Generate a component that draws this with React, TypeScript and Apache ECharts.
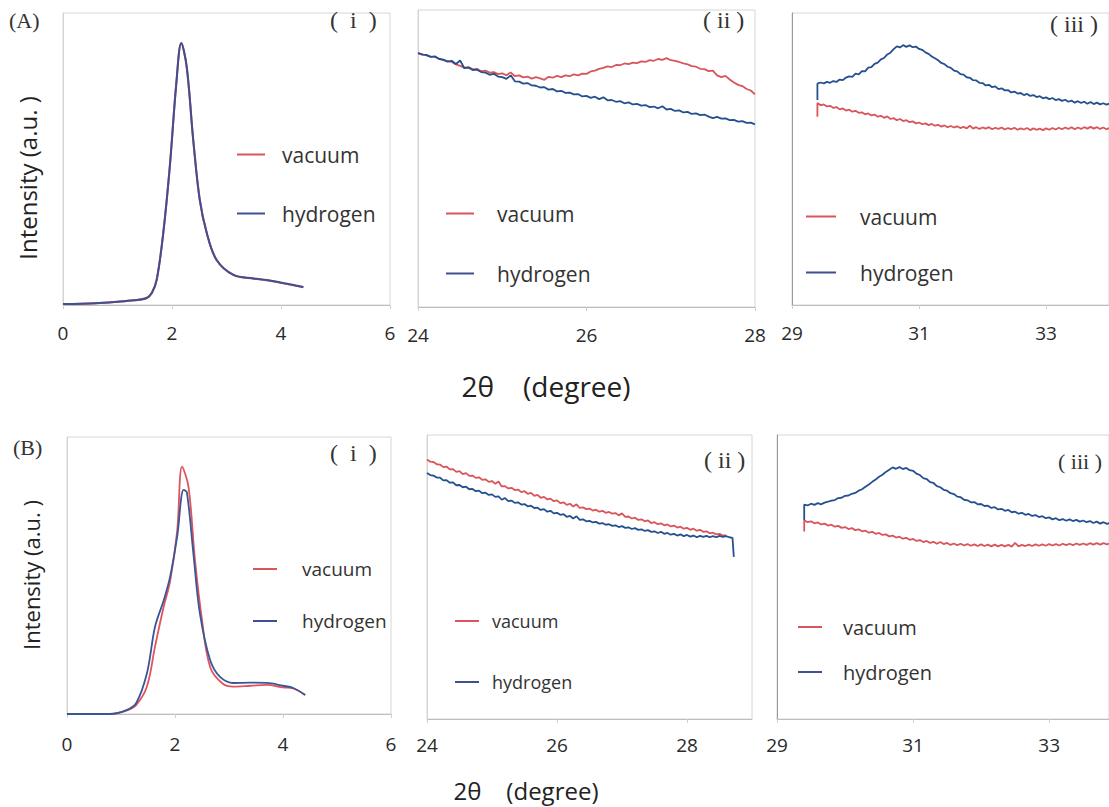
import React, { useEffect, useRef } from "react";
import * as echarts from "echarts";

// ---------- DATA ----------
const STEP = 0.05;
const SERIES_NAMES = ["vacuum", "hydrogen"];

// Panel A(i): [2θ, intensity]
const A1_VACUUM: number[][] = [
  [0, 0.3], [0.6, 0.6], [1.0, 1.1], [1.3, 1.6], [1.53, 2.4], [1.63, 4.2], [1.72, 8.8], [1.84, 24.8],
  [1.96, 47.6], [2.08, 76.2], [2.17, 89.6], [2.27, 81.4], [2.39, 56.3], [2.51, 35.8], [2.64, 24.4],
  [2.82, 15.3], [3.13, 10.2], [3.5, 9.0], [3.74, 8.5], [4.04, 7.4], [4.41, 6.1],
];
const A1_HYDROGEN: number[][] = [
  [0, 0.3], [0.6, 0.6], [1.0, 1.1], [1.3, 1.6], [1.53, 2.3], [1.63, 4.1], [1.72, 8.6], [1.84, 24.6],
  [1.96, 47.4], [2.08, 76.0], [2.17, 89.7], [2.27, 81.6], [2.39, 56.5], [2.51, 36.0], [2.64, 24.6],
  [2.82, 15.4], [3.13, 10.3], [3.5, 9.1], [3.74, 8.6], [4.04, 7.5], [4.41, 6.2],
];

// Panel B(i)
const B1_VACUUM: number[][] = [
  [0, 0], [0.8, 0], [1.1, 1.2], [1.28, 3.2], [1.48, 9.9], [1.63, 24.3], [1.79, 38.7], [1.91, 48.0],
  [2.04, 66.0], [2.13, 89.3], [2.25, 82.0], [2.37, 55.6], [2.5, 34.0], [2.65, 17.0], [2.88, 11.0],
  [3.08, 9.9], [3.4, 10.2], [3.7, 10.5], [4.0, 9.6], [4.19, 9.2], [4.41, 6.9],
];
const B1_HYDROGEN: number[][] = [
  [0, 0], [0.8, 0], [1.1, 1.4], [1.28, 3.9], [1.48, 14.7], [1.63, 31.5], [1.79, 41.0], [1.91, 49.6],
  [2.04, 64.0], [2.16, 80.9], [2.22, 80.0], [2.34, 58.0], [2.46, 36.4], [2.65, 19.5], [2.83, 13.5],
  [3.08, 11.2], [3.4, 11.3], [3.7, 11.2], [4.0, 10.2], [4.19, 9.4], [4.41, 6.9],
];

// Panel A(ii): 24.00 .. 28.00, step 0.05
const A2_X0 = 24.0;
const A2_VACUUM = [
  85.3, 85.1, 84.7, 84.3, 84.2, 83.6, 83.1, 82.8, 82.5, 81.7,
  81.2, 80.6, 80.8, 80.0, 80.2, 79.4, 79.6, 78.9, 79.1, 78.4,
  78.7, 78.0, 79.0, 77.7, 78.0, 77.3, 77.6, 76.9, 77.4, 77.0,
  76.5, 77.5, 77.2, 77.8, 77.4, 78.0, 77.7, 78.3, 78.0, 78.6,
  78.5, 79.3, 79.6, 80.2, 80.5, 81.0, 80.8, 81.5, 81.4, 82.0,
  81.8, 82.3, 82.1, 82.7, 82.5, 83.1, 82.9, 83.5, 83.2, 83.8,
  83.1, 82.9, 82.5, 82.0, 81.7, 81.1, 80.9, 80.2, 80.1, 79.4,
  79.6, 78.0, 77.4, 77.8, 76.6, 75.6, 74.8, 74.4, 73.4, 72.9,
  71.6,
];
const A2_HYDROGEN = [
  85.6, 85.0, 84.9, 84.2, 84.4, 83.5, 83.3, 82.6, 82.9, 81.8,
  83.0, 80.4, 80.6, 79.8, 79.9, 79.1, 78.9, 78.2, 78.5, 77.6,
  77.4, 76.8, 78.0, 76.0, 75.9, 75.2, 75.4, 74.6, 74.5, 73.9,
  74.0, 73.2, 73.4, 72.6, 72.8, 72.1, 72.2, 71.6, 71.7, 70.9,
  71.1, 70.4, 70.8, 70.0, 70.6, 69.6, 69.7, 69.1, 69.3, 68.6,
  68.9, 68.2, 68.4, 67.8, 68.0, 67.3, 67.5, 66.9, 67.6, 66.5,
  66.7, 66.0, 66.2, 65.5, 65.7, 65.0, 65.2, 64.6, 64.8, 64.1,
  63.6, 64.0, 63.4, 63.5, 62.9, 63.0, 62.4, 62.6, 62.0, 62.1,
  61.5,
];

// Panel A(iii): 29.40 .. 34.00, step 0.05 (FOOT = bottom of the initial jump)
const A3_X0 = 29.4;
const A3_VACUUM_FOOT = 64.5;
const A3_VACUUM = [
  69.2, 68.4, 68.7, 68.0, 68.2, 67.5, 67.8, 67.0, 67.3, 66.6,
  66.9, 66.2, 66.5, 65.8, 66.0, 65.3, 65.6, 64.9, 65.2, 64.5,
  64.8, 64.1, 64.6, 63.7, 64.0, 63.3, 63.7, 63.0, 63.3, 62.6,
  62.9, 62.2, 62.5, 61.9, 62.2, 61.6, 62.0, 61.4, 61.7, 61.1,
  61.5, 60.9, 61.3, 60.8, 61.2, 60.6, 61.0, 60.5, 61.4, 60.4,
  60.9, 60.3, 60.8, 60.4, 60.9, 60.2, 60.7, 60.3, 60.8, 60.1,
  60.6, 60.2, 60.7, 60.0, 60.5, 60.1, 60.6, 59.9, 60.5, 60.0,
  60.4, 59.9, 60.5, 60.0, 60.6, 60.1, 60.7, 60.2, 60.8, 60.3,
  60.9, 60.2, 60.8, 60.3, 60.9, 60.4, 61.0, 60.4, 60.9, 60.3,
  60.8, 60.2, 60.6,
];
const A3_HYDROGEN_FOOT = 70.2;
const A3_HYDROGEN = [
  75.8, 76.2, 75.9, 76.4, 76.1, 76.7, 76.4, 77.2, 77.0, 77.9,
  78.3, 78.1, 79.2, 79.0, 80.1, 80.0, 81.3, 81.5, 82.6, 83.0,
  84.1, 84.6, 85.8, 86.4, 87.6, 88.6, 88.2, 89.0, 88.4, 88.9,
  88.3, 88.5, 87.7, 87.4, 86.5, 86.0, 85.1, 84.5, 83.8, 82.9,
  82.5, 81.6, 81.2, 80.3, 80.0, 79.1, 78.9, 78.0, 77.8, 77.0,
  76.9, 76.1, 76.0, 75.2, 75.4, 74.6, 74.9, 73.9, 74.2, 73.5,
  73.6, 72.8, 73.1, 72.4, 72.6, 71.9, 72.3, 71.6, 71.9, 71.2,
  71.5, 70.8, 71.1, 70.5, 70.9, 70.2, 70.5, 69.9, 70.3, 69.6,
  70.0, 69.3, 69.8, 69.2, 69.6, 68.9, 69.5, 68.8, 69.3, 68.7,
  69.1, 68.6, 69.0,
];

// Panel B(ii): 24.00 .. , step 0.05
const B2_X0 = 24.0;
const B2_VACUUM = [
  91.4, 90.6, 90.5, 89.7, 89.6, 88.7, 88.9, 87.9, 88.0, 87.0,
  87.3, 86.2, 86.6, 85.6, 85.7, 84.9, 85.1, 84.2, 84.4, 83.5,
  83.8, 82.8, 83.6, 81.9, 82.0, 81.2, 81.4, 80.6, 80.8, 79.9,
  80.2, 79.3, 79.6, 78.6, 78.9, 77.9, 78.2, 77.3, 77.6, 76.7,
  77.0, 76.0, 76.3, 75.4, 75.8, 74.8, 75.6, 74.3, 74.5, 73.9,
  74.1, 73.4, 73.7, 73.0, 73.3, 72.6, 72.9, 72.3, 72.5, 71.7,
  72.4, 71.2, 71.3, 70.6, 70.9, 70.1, 70.3, 69.6, 69.9, 69.0,
  69.3, 68.6, 68.9, 68.2, 68.5, 67.8, 68.1, 67.4, 67.7, 67.0,
  67.3, 66.6, 67.0, 66.3, 66.6, 65.9, 66.1, 65.4, 65.6, 65.0,
  65.2, 64.6, 64.7,
];
const B2_HYDROGEN = [
  86.6, 85.9, 85.7, 85.0, 85.0, 84.0, 84.1, 83.2, 83.3, 82.3,
  82.4, 81.6, 81.8, 80.9, 81.0, 80.2, 80.4, 79.5, 79.7, 78.9,
  79.1, 78.2, 78.4, 77.2, 77.8, 76.7, 76.9, 76.1, 76.3, 75.5,
  75.7, 74.9, 75.1, 74.3, 74.4, 73.6, 73.9, 73.0, 73.3, 72.4,
  72.6, 71.9, 72.1, 71.2, 71.5, 70.6, 71.4, 70.1, 70.3, 69.6,
  69.8, 69.2, 69.4, 68.8, 69.0, 68.4, 68.6, 68.0, 68.2, 67.6,
  67.9, 67.3, 67.5, 66.9, 67.2, 66.6, 66.8, 66.2, 66.5, 65.9,
  66.1, 65.5, 65.9, 65.2, 65.5, 64.9, 65.2, 64.6, 65.0, 64.4,
  64.8, 64.2, 64.6, 64.0, 64.5, 64.1, 64.5, 64.0, 64.4, 64.0,
  64.5, 64.1, 64.4, 64.0, 63.8,
];
const B2_HYDROGEN_TAIL = [28.72, 57.1];

// Panel B(iii): 29.40 .. 34.00, step 0.05
const B3_X0 = 29.4;
const B3_VACUUM_FOOT = 66.0;
const B3_VACUUM = [
  70.0, 69.3, 69.6, 68.9, 69.2, 68.5, 68.8, 68.1, 68.4, 67.7,
  68.0, 67.3, 67.6, 66.9, 67.2, 66.5, 66.8, 66.1, 66.3, 65.6,
  65.9, 65.2, 65.5, 64.8, 65.0, 64.3, 64.6, 63.9, 64.2, 63.5,
  63.8, 63.1, 63.4, 62.7, 63.0, 62.3, 62.7, 62.0, 62.4, 61.7,
  62.3, 61.6, 62.0, 61.3, 61.8, 61.2, 61.7, 61.1, 61.6, 61.0,
  61.5, 60.9, 61.5, 60.9, 61.4, 60.8, 61.4, 60.8, 61.3, 60.8,
  61.3, 60.7, 62.0, 60.8, 61.3, 60.9, 61.4, 60.9, 61.5, 61.0,
  61.5, 61.0, 61.6, 61.1, 61.6, 61.1, 61.7, 61.2, 61.7, 61.2,
  61.8, 61.3, 61.8, 61.3, 61.9, 61.4, 61.9, 61.4, 61.9, 61.5,
  61.9, 61.4, 61.8,
];
const B3_HYDROGEN_FOOT = 70.1;
const B3_HYDROGEN = [
  75.5, 75.2, 75.8, 75.4, 76.0, 75.6, 76.2, 76.5, 76.9, 77.1,
  77.8, 77.9, 78.6, 78.7, 79.3, 79.6, 80.4, 80.9, 81.8, 82.6,
  83.5, 84.3, 85.3, 86.0, 87.0, 87.8, 88.6, 88.1, 88.7, 88.0,
  88.4, 87.6, 87.4, 86.4, 85.9, 84.8, 84.5, 83.4, 83.1, 82.0,
  81.6, 80.7, 80.4, 79.5, 79.2, 78.3, 78.1, 77.2, 77.0, 76.3,
  76.4, 75.6, 75.7, 75.0, 75.1, 74.3, 74.6, 73.8, 74.0, 73.3,
  73.6, 72.8, 73.0, 72.3, 72.6, 71.9, 72.2, 71.5, 71.8, 71.1,
  71.4, 70.7, 71.0, 70.3, 70.7, 70.0, 70.4, 69.8, 70.3, 69.7,
  70.1, 69.5, 69.9, 69.3, 69.7, 69.0, 69.5, 68.8, 69.3, 68.7,
  69.1, 68.6, 69.0,
];

// ---------- helpers ----------
const toPairs = (x0: number, vals: number[], foot?: number) => {
  const out: number[][] = [];
  if (foot !== undefined) out.push([x0, foot]);
  vals.forEach((v, i) => out.push([+(x0 + i * STEP).toFixed(2), v]));
  return out;
};

const RED = "#d8555b";
const BLUE = "#25508e";
const FONT = "'Open Sans', 'Noto Sans', sans-serif";
const SERIF = "'Liberation Serif', 'DejaVu Serif', serif";

export default function App() {
  const ref = useRef<HTMLDivElement>(null);

  useEffect(() => {
    document.body.style.margin = "0";
    const chart = echarts.init(ref.current!, undefined, { renderer: "svg" });

    const grids = [
      { left: 63, top: 13, width: 327, height: 292 },   // A(i)
      { left: 418, top: 10, width: 337, height: 297 },  // A(ii)
      { left: 792, top: 13, width: 317, height: 292 },  // A(iii)
      { left: 67, top: 437, width: 324, height: 277 },  // B(i)
      { left: 427, top: 435, width: 325, height: 284 }, // B(ii)
      { left: 777, top: 435, width: 332, height: 284 }, // B(iii)
    ];
    const xRanges = [
      [0, 6], [24, 28], [29, 33.99],
      [0, 6], [24, 29], [29, 33.88],
    ];
    const labelMargins = [18, 18, 18, 20, 16, 16];

    const xAxes = xRanges.map((r, i) => ({
      type: "value",
      gridIndex: i,
      min: r[0],
      max: r[1],
      interval: 2,
      axisLine: { show: true, lineStyle: { color: "#bdbdbd", width: 1 } },
      axisTick: { show: true, length: 4, lineStyle: { color: "#d0d0d0" } },
      splitLine: { show: false },
      axisLabel: {
        fontSize: 19,
        fontFamily: FONT,
        color: "#2a2a2a",
        margin: labelMargins[i],
        showMaxLabel: i === 0 || i === 1 || i === 3,
      },
    }));
    const yAxes = grids.map((_, i) => ({
      type: "value",
      gridIndex: i,
      min: 0,
      max: 100,
      axisLine: { show: true, lineStyle: { color: i === 2 || i === 5 ? "#9a9a9a" : "#d4d4d4" } },
      axisTick: { show: false },
      axisLabel: { show: false },
      splitLine: { show: false },
    }));

    const line = (name: string, data: number[][], idx: number, color: string, smooth: number | boolean = false, width = 1.8) => ({
      type: "line",
      name,
      xAxisIndex: idx,
      yAxisIndex: idx,
      data,
      showSymbol: false,
      symbol: "none",
      smooth,
      lineStyle: { color, width },
      itemStyle: { color },
      silent: true,
    });

    const series = [
      line(SERIES_NAMES[0], A1_VACUUM, 0, RED, 0.35, 2),
      line(SERIES_NAMES[1], A1_HYDROGEN, 0, "#3f4f90", 0.35, 2),
      line(SERIES_NAMES[0], toPairs(A2_X0, A2_VACUUM), 1, RED),
      line(SERIES_NAMES[1], toPairs(A2_X0, A2_HYDROGEN), 1, BLUE),
      line(SERIES_NAMES[0], toPairs(A3_X0, A3_VACUUM, A3_VACUUM_FOOT), 2, RED),
      line(SERIES_NAMES[1], toPairs(A3_X0, A3_HYDROGEN, A3_HYDROGEN_FOOT), 2, BLUE),
      line(SERIES_NAMES[0], B1_VACUUM, 3, "#e0555d", 0.35, 1.8),
      line(SERIES_NAMES[1], B1_HYDROGEN, 3, "#3a5696", 0.35, 1.8),
      line(SERIES_NAMES[0], toPairs(B2_X0, B2_VACUUM), 4, RED),
      line(SERIES_NAMES[1], [...toPairs(B2_X0, B2_HYDROGEN), B2_HYDROGEN_TAIL], 4, BLUE),
      line(SERIES_NAMES[0], toPairs(B3_X0, B3_VACUUM, B3_VACUUM_FOOT), 5, RED),
      line(SERIES_NAMES[1], toPairs(B3_X0, B3_HYDROGEN, B3_HYDROGEN_FOOT), 5, BLUE),
    ];

    const legendPos = [
      { left: 232, top: 139, gap: 38, fs: 21, pad: 12, w: 28 },
      { left: 441, top: 198, gap: 39, fs: 21, pad: 18, w: 28 },
      { left: 801, top: 201, gap: 35, fs: 21, pad: 19, w: 30 },
      { left: 248, top: 554, gap: 32, fs: 19, pad: 20, w: 24 },
      { left: 450, top: 606, gap: 41, fs: 18, pad: 8, w: 24 },
      { left: 793, top: 612, gap: 25, fs: 20, pad: 16, w: 24 },
    ];
    const legend = legendPos.map((p) => ({
      left: p.left,
      top: p.top,
      orient: "vertical",
      data: SERIES_NAMES,
      icon: "rect",
      itemWidth: p.w,
      itemHeight: 2,
      itemGap: p.gap,
      selectedMode: false,
      textStyle: { fontSize: p.fs, fontFamily: FONT, color: "#333", padding: [0, 0, 0, p.pad], lineHeight: 20 },
    }));

    const panelTag = (text: string, x: number, y: number, size = 24) => ({
      type: "text",
      left: x,
      top: y,
      style: { text, fontFamily: SERIF, fontSize: size, fill: "#333" },
    });

    const graphic = [
      panelTag("(A)", 9, 9, 22),
      panelTag("(B)", 13, 436, 22),
      panelTag("(  i  )", 330, 8),
      panelTag("( ii )", 703, 8),
      panelTag("( iii )", 1050, 12),
      panelTag("(  i  )", 330, 441),
      panelTag("( ii )", 704, 448),
      panelTag("( iii )", 1058, 450, 22),
      {
        type: "text",
        x: 546,
        y: 386,
        style: { text: "2θ    (degree)", fontFamily: FONT, fontSize: 28, fill: "#222", align: "center", verticalAlign: "middle" },
      },
      {
        type: "text",
        x: 526,
        y: 790,
        style: { text: "2θ    (degree)", fontFamily: FONT, fontSize: 24, fill: "#222", align: "center", verticalAlign: "middle" },
      },
      {
        type: "text",
        x: 27,
        y: 178,
        rotation: Math.PI / 2,
        style: { text: "Intensity (a.u. )", fontFamily: FONT, fontSize: 24, fill: "#222", align: "center", verticalAlign: "middle" },
      },
      {
        type: "text",
        x: 31,
        y: 575,
        rotation: Math.PI / 2,
        style: { text: "Intensity (a.u. )", fontFamily: FONT, fontSize: 22, fill: "#222", align: "center", verticalAlign: "middle" },
      },
    ];

    chart.setOption({
      animation: false,
      backgroundColor: "#ffffff",
      grid: grids.map((g) => ({ ...g, show: true, borderColor: "#d6d6d6", borderWidth: 1, backgroundColor: "transparent" })),
      xAxis: xAxes,
      yAxis: yAxes,
      legend,
      series,
      graphic,
    });

    return () => chart.dispose();
  }, []);

  return <div ref={ref} style={{ width: 1109, height: 807 }} />;
}
